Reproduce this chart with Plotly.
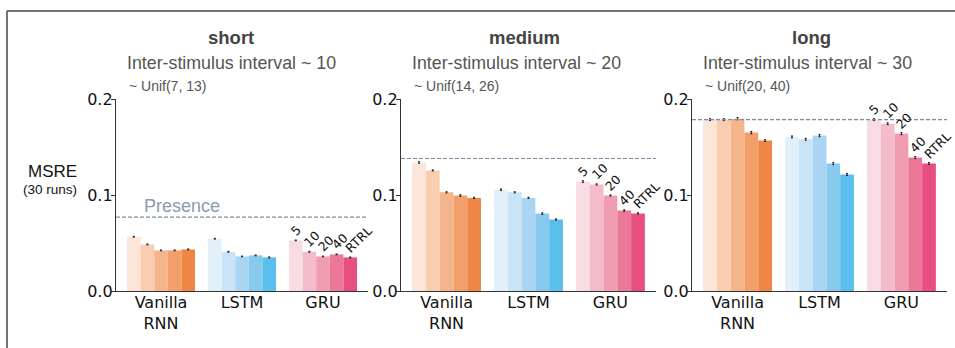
import plotly.graph_objects as go

# ---------------- data ----------------
models = ["Vanilla<br>RNN", "LSTM", "GRU"]
trunc_labels = ["5", "10", "20", "40", "RTRL"]
conditions = ["short", "medium", "long"]
subtitles = ["Inter-stimulus interval ~ 10", "Inter-stimulus interval ~ 20", "Inter-stimulus interval ~ 30"]
unif_labels = ["~ Unif(7, 13)", "~ Unif(14, 26)", "~ Unif(20, 40)"]

# values[condition][truncation] -> [Vanilla, LSTM, GRU]
short_vals = [
    [0.0565, 0.0544, 0.0527],
    [0.0485, 0.0409, 0.0409],
    [0.0423, 0.0360, 0.0360],
    [0.0423, 0.0371, 0.0381],
    [0.0433, 0.0350, 0.0350],
]
medium_vals = [
    [0.1339, 0.1055, 0.1140],
    [0.1256, 0.1028, 0.1110],
    [0.1028, 0.0970, 0.0995],
    [0.0995, 0.0806, 0.0838],
    [0.0970, 0.0745, 0.0808],
]
long_vals = [
    [0.1785, 0.1605, 0.1785],
    [0.1785, 0.1580, 0.1743],
    [0.1795, 0.1619, 0.1640],
    [0.1650, 0.1328, 0.1390],
    [0.1567, 0.1213, 0.1328],
]
short_err = [0.0004, 0.0005, 0.0004, 0.0004, 0.0005]
medium_err = [0.0008, 0.0006, 0.0006, 0.0008, 0.0006]
long_err = [0.0010, 0.0010, 0.0012, 0.0012, 0.0010]
presence = [0.077, 0.138, 0.1785]

vanilla_colors = ["#FBE4D8", "#F8CDB0", "#F4B58D", "#F29F6A", "#EF8646"]
lstm_colors = ["#E2F0FA", "#C8E4F6", "#A9D5F3", "#87CAEE", "#5BBFED"]
gru_colors = ["#F8DCE3", "#F4BCCA", "#F09CB1", "#EC7899", "#E84F81"]

all_vals = [short_vals, medium_vals, long_vals]
all_err = [short_err, medium_err, long_err]

# ---------------- layout geometry ----------------
W, H = 955, 348
panel_px = [(116, 368), (401, 656), (692, 947)]
y0_px, y1_px = 291, 99
ydom = [(H - y0_px) / H, (H - y1_px) / H]
xrange_ = [-0.556, 2.556]
bar_w = 0.168

fig = go.Figure()

annotations = []
shapes = []
for p in range(3):
    ax = "" if p == 0 else str(p + 1)
    xref = "x" + ax
    yref = "y" + ax
    for t in range(5):
        fig.add_trace(go.Bar(
            x=[0, 1, 2],
            y=all_vals[p][t],
            marker=dict(color=[vanilla_colors[t], lstm_colors[t], gru_colors[t]], line=dict(width=0)),
            error_y=dict(type="constant", value=all_err[p][t], color="#222222", thickness=1, width=1),
            xaxis=xref, yaxis=yref, showlegend=False, name=trunc_labels[t],
        ))
        # GRU truncation labels
        xc = 2 + (t - 2) * bar_w
        annotations.append(dict(
            x=xc - bar_w / 2, y=all_vals[p][t][2], xref=xref, yref=yref,
            text=trunc_labels[t], showarrow=False, textangle=-45,
            xanchor="left", yanchor="bottom", xshift=-4, yshift=-1,
            font=dict(family="DejaVu Sans", size=12.5, color="#111111"),
        ))
    dom = [panel_px[p][0] / W, panel_px[p][1] / W]
    fig.layout["xaxis" + ax] = dict(
        domain=dom, range=xrange_, tickmode="array", tickvals=[0, 1, 2], ticktext=models,
        showline=True, linecolor="#333333", linewidth=1.3, ticks="", ticklabelstandoff=-3,
        showgrid=False, zeroline=False, automargin=False,
        tickfont=dict(family="DejaVu Sans", size=16, color="#111111"),
        anchor=yref, fixedrange=True,
    )
    fig.layout["yaxis" + ax] = dict(
        domain=ydom, range=[0, 0.2], tickmode="array", tickvals=[0, 0.1, 0.2],
        ticktext=["0.0", "0.1", "0.2"], showline=True, linecolor="#333333", linewidth=1.3,
        ticks="outside", ticklen=4, tickcolor="#333333", showgrid=False, zeroline=False,
        automargin=False, ticklabelstandoff=-5,
        tickfont=dict(family="DejaVu Sans", size=16, color="#111111"),
        anchor=xref, fixedrange=True,
    )
    # presence line
    shapes.append(dict(type="line", xref=xref + " domain", yref=yref, x0=0, x1=1,
                       y0=presence[p], y1=presence[p],
                       line=dict(color="#7D8CA5", width=1.2, dash="4px,2px")))
    # titles
    title_cx = [231, 524, 811][p]
    annotations.append(dict(x=title_cx / W, y=(H - 37) / H, xref="paper", yref="paper",
                            text="<b>" + conditions[p] + "</b>", showarrow=False,
                            xanchor="center", yanchor="middle",
                            font=dict(family="Liberation Sans", size=18.5, color="#444444")))
    annotations.append(dict(x=(panel_px[p][0] + 9) / W, y=(H - 63) / H, xref="paper", yref="paper",
                            text=subtitles[p], showarrow=False, xanchor="left", yanchor="middle",
                            font=dict(family="Liberation Sans", size=17.8, color="#555555")))
    annotations.append(dict(x=(panel_px[p][0] + 11) / W, y=(H - 86) / H, xref="paper", yref="paper",
                            text=unif_labels[p], showarrow=False, xanchor="left", yanchor="middle",
                            font=dict(family="Liberation Sans", size=14, color="#555555")))

# Presence text
annotations.append(dict(x=182 / W, y=(H - 206) / H, xref="paper", yref="paper", text="Presence",
                        showarrow=False, xanchor="center", yanchor="middle",
                        font=dict(family="Liberation Sans", size=18, color="#8A9AB5")))
# y label
annotations.append(dict(x=52 / W, y=(H - 172) / H, xref="paper", yref="paper", text="MSRE",
                        showarrow=False, xanchor="center", yanchor="middle",
                        font=dict(family="Liberation Sans", size=17, color="#111111")))
annotations.append(dict(x=50 / W, y=(H - 190) / H, xref="paper", yref="paper", text="(30 runs)",
                        showarrow=False, xanchor="center", yanchor="middle",
                        font=dict(family="Liberation Sans", size=13.5, color="#111111")))

# outer frame
shapes.append(dict(type="line", xref="paper", yref="paper", x0=7 / W, x1=1.0,
                   y0=(H - 11) / H, y1=(H - 11) / H, line=dict(color="#444444", width=1.5)))
shapes.append(dict(type="line", xref="paper", yref="paper", x0=7 / W, x1=7 / W,
                   y0=0, y1=(H - 11) / H, line=dict(color="#444444", width=1.5)))

fig.update_layout(
    width=W, height=H, margin=dict(l=0, r=0, t=0, b=0, pad=0, autoexpand=False),
    barmode="group", bargap=0.16, bargroupgap=0,
    plot_bgcolor="white", paper_bgcolor="white",
    annotations=annotations, shapes=shapes, showlegend=False,
)

fig.write_html("out.html")
